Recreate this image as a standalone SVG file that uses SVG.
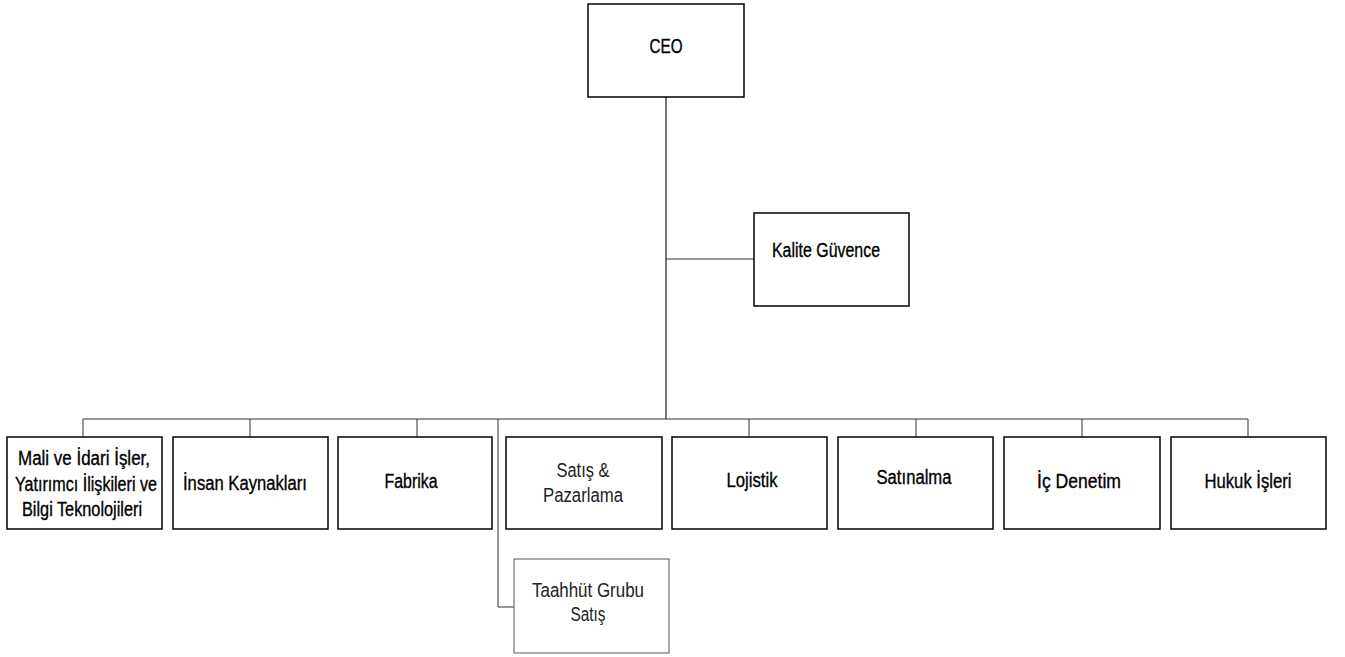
<svg xmlns="http://www.w3.org/2000/svg" width="1345" height="657" viewBox="0 0 1345 657">
<style>
.box{fill:#fff;stroke:#000;stroke-width:1.5}
.box2{fill:#fff;stroke:#555;stroke-width:1}
.t{font-family:"Liberation Sans",Arial,sans-serif;font-size:20px;fill:#000;stroke:#000;stroke-width:0.35;text-anchor:middle}
.tl{font-family:"Liberation Sans",Arial,sans-serif;font-size:20px;fill:#222;text-anchor:middle}
.c{fill:none;stroke:#333;stroke-width:1}
.cg{fill:none;stroke:#777;stroke-width:2}
</style>
<rect width="1345" height="657" fill="#fff"/>
<g id="connectors">
<line class="cg" x1="666" y1="97" x2="666" y2="419"/>
<line class="c" x1="666" y1="259" x2="754" y2="259"/>
<line class="c" x1="83" y1="419" x2="1248" y2="419"/>
<line class="c" x1="83" y1="419" x2="83" y2="437"/>
<line class="c" x1="250" y1="419" x2="250" y2="437"/>
<line class="c" x1="417" y1="419" x2="417" y2="437"/>
<line class="c" x1="749" y1="419" x2="749" y2="437"/>
<line class="c" x1="916" y1="419" x2="916" y2="437"/>
<line class="c" x1="1082" y1="419" x2="1082" y2="437"/>
<line class="c" x1="1248" y1="419" x2="1248" y2="437"/>
<polyline class="c" points="498,419 498,607 514,607"/>
</g>
<g id="ceo"><rect class="box" x="588" y="4" width="156" height="93"/><text class="t" x="666" y="53" textLength="33" lengthAdjust="spacingAndGlyphs">CEO</text></g>
<g id="kalite"><rect class="box" x="754" y="213" width="155" height="93"/><text class="t" x="826" y="257" textLength="108" lengthAdjust="spacingAndGlyphs">Kalite Güvence</text></g>
<g id="mali"><rect class="box" x="7" y="437" width="155" height="92"/>
<text class="t" x="84" y="465" textLength="132" lengthAdjust="spacingAndGlyphs">Mali ve İdari İşler,</text>
<text class="t" x="86" y="491" textLength="142" lengthAdjust="spacingAndGlyphs">Yatırımcı İlişkileri ve</text>
<text class="t" x="82" y="516" textLength="120" lengthAdjust="spacingAndGlyphs">Bilgi Teknolojileri</text></g>
<g id="ik"><rect class="box" x="173" y="437" width="155" height="92"/><text class="t" x="245" y="490" textLength="124" lengthAdjust="spacingAndGlyphs">İnsan Kaynakları</text></g>
<g id="fabrika"><rect class="box" x="338" y="437" width="154" height="92"/><text class="t" x="411" y="488" textLength="53" lengthAdjust="spacingAndGlyphs">Fabrika</text></g>
<g id="satis"><rect class="box" x="506" y="437" width="156" height="92"/>
<text class="tl" x="583" y="477" textLength="53" lengthAdjust="spacingAndGlyphs">Satış &amp;</text>
<text class="tl" x="583" y="502" textLength="80" lengthAdjust="spacingAndGlyphs">Pazarlama</text></g>
<g id="taahhut"><rect class="box2" x="514" y="559" width="155" height="94"/>
<text class="tl" x="588" y="597" textLength="112" lengthAdjust="spacingAndGlyphs">Taahhüt Grubu</text>
<text class="tl" x="588" y="621" textLength="35" lengthAdjust="spacingAndGlyphs">Satış</text></g>
<g id="lojistik"><rect class="box" x="672" y="437" width="155" height="92"/><text class="t" x="752" y="487" textLength="51" lengthAdjust="spacingAndGlyphs">Lojistik</text></g>
<g id="satinalma"><rect class="box" x="838" y="437" width="155" height="92"/><text class="t" x="914" y="484" textLength="75" lengthAdjust="spacingAndGlyphs">Satınalma</text></g>
<g id="icdenetim"><rect class="box" x="1004" y="437" width="156" height="92"/><text class="t" x="1079" y="488" textLength="84" lengthAdjust="spacingAndGlyphs">İç Denetim</text></g>
<g id="hukuk"><rect class="box" x="1171" y="437" width="155" height="92"/><text class="t" x="1248" y="488" textLength="87" lengthAdjust="spacingAndGlyphs">Hukuk İşleri</text></g>
</svg>
